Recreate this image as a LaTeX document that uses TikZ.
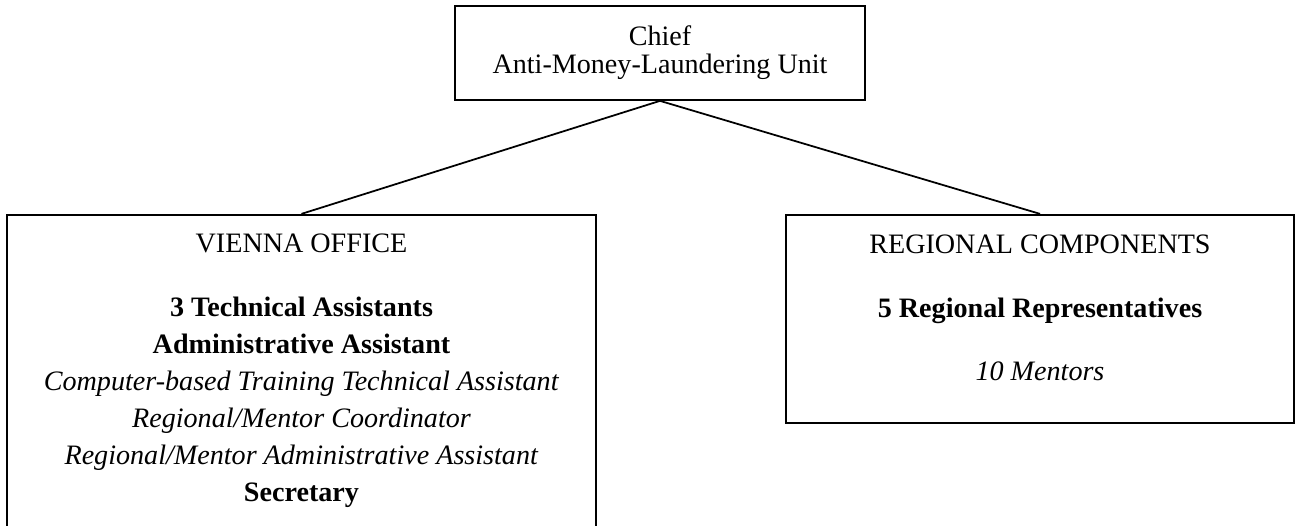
\documentclass[tikz,border=0pt]{standalone}
\usepackage{fontspec}
\setmainfont{Liberation Serif}
\usepackage{tikz}
\usetikzlibrary{positioning}

\begin{document}
\begin{tikzpicture}[
    every node/.style={draw, line width=1pt, inner sep=0pt, align=center, font=\fontsize{16}{21}\selectfont},
    link/.style={line width=1pt}
]
\useasboundingbox (0,0) rectangle (25.94,-10.52);
\node (chief) [minimum width=8.2cm, minimum height=1.88cm, font=\fontsize{16}{16}\selectfont] at (13.2,-1.06) {Chief\\Anti-Money-Laundering Unit};
\node (vienna) [below=2.26cm of chief, xshift=-7.17cm, minimum width=11.78cm, minimum height=6.5cm] {VIENNA OFFICE\\[0.54cm]
    \textbf{3 Technical Assistants}\\
    \textbf{Administrative Assistant}\\
    \textit{Computer-based Training Technical Assistant}\\
    \textit{Regional/Mentor Coordinator}\\
    \textit{Regional/Mentor Administrative Assistant}\\
    \textbf{Secretary}\rule[-0.38cm]{0pt}{0pt}};
\node (regional) [below=2.26cm of chief, xshift=7.6cm, minimum width=10.16cm, minimum height=4.16cm, font=\fontsize{16}{36}\selectfont] {REGIONAL COMPONENTS\\
    \textbf{5 Regional Representatives}\\
    \textit{10 Mentors}\rule[-0.44cm]{0pt}{0pt}};
\draw[link] (chief.south) -- (vienna.north);
\draw[link] (chief.south) -- (regional.north);
\end{tikzpicture}
\end{document}
